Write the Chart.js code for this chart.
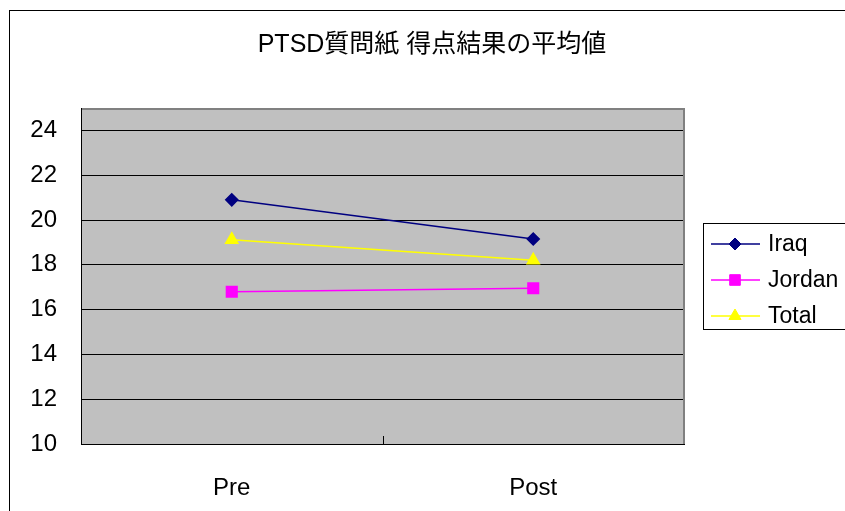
<!DOCTYPE html>
<html>
<head>
  <title>PTSD Chart</title>
  <script src="https://cdn.jsdelivr.net/npm/chart.js"></script>
  <style>
    html, body { margin: 0; padding: 0; background: #fff; }
    #wrap { width: 845px; height: 511px; }
  </style>
</head>
<body>
  <div id="wrap"><canvas id="ptsdChart" width="845" height="511"></canvas></div>

  <script>
    const chartTitle = 'PTSD質問紙 得点結果の平均値';
    const categories = ['Pre', 'Post'];
    const iraq = [20.9, 19.15];
    const jordan = [16.8, 16.95];
    const total = [19.12, 18.2];
    const yTicks = [10, 12, 14, 16, 18, 20, 22, 24];

    const fontFamily = '"Liberation Sans", Arial, "Noto Sans CJK JP", sans-serif';

    // frame, title, plot background, middle tick and legend box
    const excelLook = {
      id: 'excelLook',
      beforeDraw(chart) {
        const ctx = chart.ctx;
        const a = chart.chartArea;
        ctx.save();
        ctx.fillStyle = '#fff';
        ctx.fillRect(0, 0, chart.width, chart.height);
        ctx.strokeStyle = '#000';
        ctx.lineWidth = 1;
        ctx.strokeRect(9.5, 10.5, 900, 600);
        ctx.fillStyle = '#000';
        ctx.font = '25px ' + fontFamily;
        ctx.textAlign = 'center';
        ctx.textBaseline = 'middle';
        ctx.fillText(chartTitle, 432, 45);
        ctx.fillStyle = '#C0C0C0';
        ctx.fillRect(a.left, a.top, a.right - a.left, a.bottom - a.top);
        ctx.restore();
      },
      afterDraw(chart) {
        const ctx = chart.ctx;
        const a = chart.chartArea;
        ctx.save();
        ctx.strokeStyle = '#808080';
        ctx.lineWidth = 2;
        ctx.beginPath();
        ctx.moveTo(a.left + 1, a.top + 1);
        ctx.lineTo(a.right, a.top + 1);
        ctx.lineTo(a.right, a.bottom);
        ctx.stroke();
        // inward category tick
        const mid = Math.round(chart.scales.x.getPixelForValue(0.5)) + 0.5;
        ctx.strokeStyle = '#000';
        ctx.lineWidth = 1;
        ctx.beginPath();
        ctx.moveTo(mid, a.bottom - 8);
        ctx.lineTo(mid, a.bottom);
        ctx.stroke();

        // legend
        ctx.fillStyle = '#fff';
        ctx.fillRect(703, 223, 160, 106);
        ctx.strokeRect(703.5, 223.5, 160, 106);
        ctx.font = '23px ' + fontFamily;
        ctx.textAlign = 'left';
        ctx.textBaseline = 'middle';
        chart.data.datasets.forEach((ds, i) => {
          const y = 244 + i * 36;
          ctx.strokeStyle = ds.borderColor;
          ctx.lineWidth = 1.5;
          ctx.beginPath();
          ctx.moveTo(711, y);
          ctx.lineTo(760, y);
          ctx.stroke();
          ctx.fillStyle = ds.pointBackgroundColor;
          ctx.strokeStyle = ds.pointBorderColor;
          ctx.lineWidth = 1;
          Chart.helpers.drawPoint(ctx, { pointStyle: ds.pointStyle, radius: ds.pointRadius, borderWidth: 1 }, 735, y);
          ctx.fillStyle = '#000';
          ctx.fillText(ds.label, 768, y + 1);
        });
        ctx.restore();
      }
    };

    const ctx = document.getElementById('ptsdChart').getContext('2d');
    const ptsdChart = new Chart(ctx, {
      type: 'line',
      data: {
        labels: categories,
        datasets: [
          {
            label: 'Iraq',
            data: iraq,
            borderColor: '#000080',
            borderWidth: 1.5,
            pointStyle: 'rectRot',
            pointRadius: 6,
            pointBackgroundColor: '#000080',
            pointBorderColor: '#000080',
          },
          {
            label: 'Jordan',
            data: jordan,
            borderColor: '#FF00FF',
            borderWidth: 1.5,
            pointStyle: 'rect',
            pointRadius: 7.5,
            pointBackgroundColor: '#FF00FF',
            pointBorderColor: '#FF00FF',
          },
          {
            label: 'Total',
            data: total,
            borderColor: '#FFFF00',
            borderWidth: 1.5,
            pointStyle: 'triangle',
            pointRadius: 7,
            pointBackgroundColor: '#FFFF00',
            pointBorderColor: '#FFFF00',
          },
        ],
      },
      options: {
        responsive: false,
        animation: false,
        events: [],
        layout: { padding: { left: 0, top: 108, right: 161, bottom: 0 } },
        plugins: {
          legend: { display: false },
          title: { display: false },
          tooltip: { enabled: false },
        },
        scales: {
          x: {
            offset: true,
            grid: { display: false },
            border: { display: true, color: '#000', width: 1 },
            ticks: {
              color: '#000',
              font: { family: fontFamily, size: 24 },
              padding: 22,
            },
            afterFit(scale) { scale.height = 67; },
          },
          y: {
            min: 10,
            max: 25,
            afterBuildTicks(scale) {
              scale.ticks = yTicks.map(v => ({ value: v }));
            },
            grid: { color: '#000', lineWidth: 1, drawTicks: false },
            border: { display: true, color: '#000', width: 1 },
            ticks: {
              color: '#000',
              font: { family: fontFamily, size: 24 },
              padding: 24,
            },
            afterFit(scale) { scale.width = 81; },
          },
        },
      },
      plugins: [excelLook],
    });
  </script>
</body>
</html>
